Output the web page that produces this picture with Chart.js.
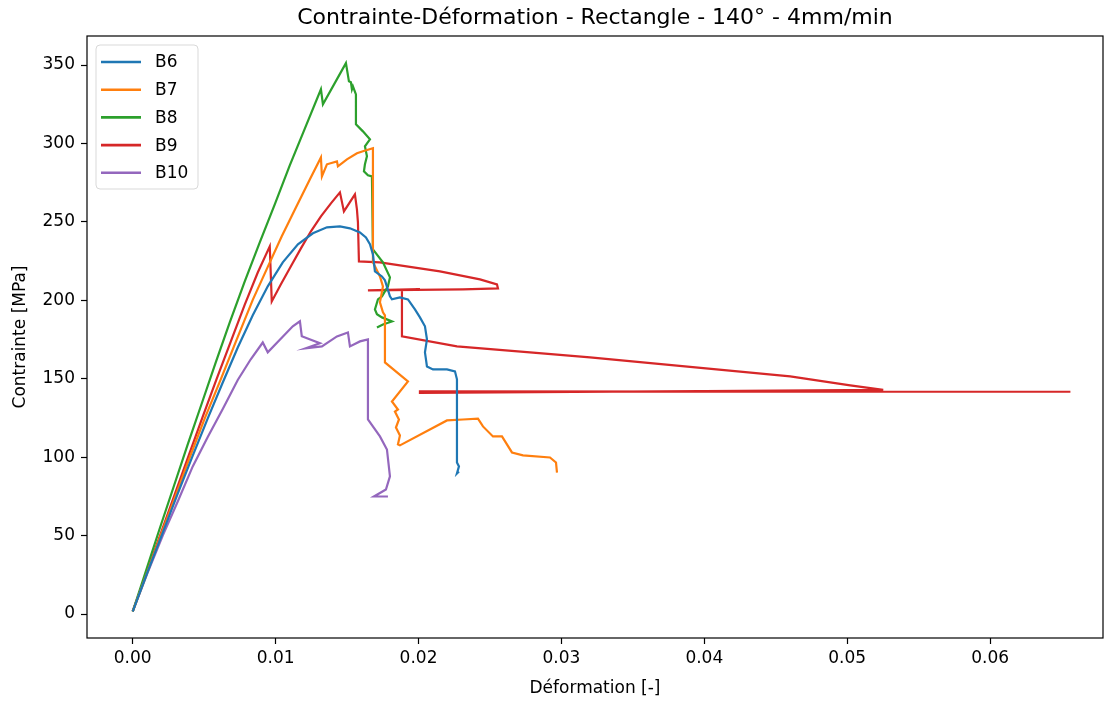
<!DOCTYPE html>
<html>
<head>
<meta charset="utf-8">
<script src="https://cdn.jsdelivr.net/npm/chart.js@4.4.1/dist/chart.umd.min.js"></script>
<style>
  html, body { margin: 0; padding: 0; background: #fff; }
  #wrap { width: 1111px; height: 705px; }
</style>
</head>
<body>
<div id="wrap"><canvas id="c" width="1111" height="705"></canvas></div>
<script>
// Specimens and their colours
const specimens = ['B6', 'B7', 'B8', 'B9', 'B10'];
const colors = ['#1f77b4', '#ff7f0e', '#2ca02c', '#d62728', '#9467bd'];

// Axis ticks
const xTicks = [0.00, 0.01, 0.02, 0.03, 0.04, 0.05, 0.06];
const yTicks = [0, 50, 100, 150, 200, 250, 300, 350];

// B6 : strain [-] / stress [MPa]
const b6Strain = [0, 0.00105, 0.00210, 0.00315, 0.00420, 0.00525, 0.00630, 0.00735, 0.00840, 0.00945, 0.01050, 0.01156, 0.01261, 0.01359, 0.01450, 0.01520, 0.01590, 0.01632, 0.01660, 0.01681, 0.01695, 0.01744, 0.01765, 0.01800, 0.01814, 0.01870, 0.01926, 0.01975, 0.02010, 0.02045, 0.02059, 0.02045, 0.02059, 0.02101, 0.02199, 0.02255, 0.02269, 0.02269, 0.02283, 0.02269, 0.02283];
const b6Stress = [1.6, 27.1, 51.9, 76.8, 101.0, 124.7, 147.6, 169.9, 190.4, 208.9, 224.2, 235.7, 242.7, 246.5, 247.1, 245.9, 243.3, 240.1, 235.7, 229.3, 218.4, 215.2, 212.7, 202.5, 200.6, 201.9, 200.6, 194.2, 189.1, 183.4, 175.1, 166.8, 157.8, 155.9, 155.9, 154.7, 149.6, 96.6, 94.1, 89.6, 90.9];

// B7
const b7Strain = [0, 0.00098, 0.00196, 0.00301, 0.00399, 0.00504, 0.00616, 0.00728, 0.00840, 0.00945, 0.01043, 0.01142, 0.01240, 0.01317, 0.01324, 0.01359, 0.01429, 0.01436, 0.01499, 0.01569, 0.01611, 0.01681, 0.01681, 0.01730, 0.01751, 0.01730, 0.01751, 0.01765, 0.01765, 0.01926, 0.01814, 0.01856, 0.01835, 0.01863, 0.01842, 0.01870, 0.01856, 0.01870, 0.02199, 0.02311, 0.02416, 0.02451, 0.02521, 0.02584, 0.02654, 0.02731, 0.02920, 0.02962, 0.02969];
const b7Stress = [1.6, 25.8, 50.1, 75.6, 99.8, 124.7, 149.6, 175.1, 200.3, 221.3, 240.8, 259.2, 277.1, 291.1, 279.0, 286.7, 288.6, 285.4, 289.9, 293.7, 295.0, 296.9, 224.2, 215.2, 208.9, 198.7, 192.3, 190.4, 160.4, 148.3, 135.5, 130.4, 129.1, 124.0, 118.9, 113.8, 108.1, 107.5, 123.4, 124.0, 124.6, 119.6, 113.2, 113.2, 103.0, 101.1, 99.8, 96.6, 90.2];

// B8
const b8Strain = [0, 0.00091, 0.00189, 0.00287, 0.00385, 0.00483, 0.00581, 0.00679, 0.00784, 0.00889, 0.00994, 0.01099, 0.01205, 0.01317, 0.01331, 0.01492, 0.01513, 0.01527, 0.01534, 0.01541, 0.01562, 0.01562, 0.01611, 0.01660, 0.01625, 0.01639, 0.01625, 0.01618, 0.01646, 0.01674, 0.01681, 0.01751, 0.01800, 0.01786, 0.01744, 0.01716, 0.01695, 0.01709, 0.01744, 0.01814, 0.01751, 0.01709];
const b8Stress = [1.6, 27.1, 54.5, 81.3, 108.1, 134.2, 160.4, 185.9, 212.1, 236.9, 261.2, 286.0, 309.6, 334.5, 325.0, 351.2, 339.6, 339.0, 334.5, 336.4, 331.3, 312.2, 307.7, 302.6, 298.2, 291.8, 286.7, 282.2, 279.7, 279.0, 232.5, 224.2, 214.6, 208.9, 202.5, 200.6, 194.2, 191.1, 189.1, 186.5, 184.6, 182.7];

// B9
const b9Strain = [0, 0.00098, 0.00196, 0.00294, 0.00392, 0.00490, 0.00588, 0.00686, 0.00784, 0.00875, 0.00959, 0.00973, 0.01036, 0.01106, 0.01177, 0.01247, 0.01317, 0.01387, 0.01450, 0.01478, 0.01555, 0.01569, 0.01576, 0.01583, 0.01730, 0.02150, 0.02430, 0.02549, 0.02556, 0.02311, 0.01646, 0.02010, 0.01884, 0.01884, 0.02269, 0.02780, 0.03200, 0.04601, 0.05021, 0.05252, 0.02010, 0.02010, 0.06562];
const b9Stress = [1.6, 26.5, 51.3, 76.2, 101.1, 125.8, 150.1, 173.7, 197.3, 217.7, 234.4, 199.3, 210.1, 221.6, 233.1, 244.0, 253.5, 261.8, 268.8, 256.7, 267.5, 258.0, 249.7, 224.8, 224.2, 218.4, 213.3, 210.1, 207.6, 206.9, 206.3, 207.1, 206.6, 177.0, 170.6, 166.8, 163.6, 151.5, 145.8, 142.9, 140.9, 141.9, 141.7];

// B10
const b10Strain = [0, 0.00105, 0.00210, 0.00315, 0.00420, 0.00525, 0.00630, 0.00735, 0.00826, 0.00910, 0.00945, 0.01120, 0.01170, 0.01183, 0.01310, 0.01211, 0.01324, 0.01429, 0.01506, 0.01520, 0.01590, 0.01646, 0.01646, 0.01730, 0.01779, 0.01800, 0.01772, 0.01688, 0.01786];
const b10Stress = [1.8, 26.5, 50.0, 71.7, 94.1, 112.9, 130.7, 149.2, 162.4, 173.1, 166.8, 183.4, 186.6, 177.1, 172.6, 169.4, 170.6, 177.0, 179.5, 170.6, 173.8, 175.1, 124.0, 113.2, 104.9, 87.7, 79.4, 74.9, 74.9];

const strainSeries = [b6Strain, b7Strain, b8Strain, b9Strain, b10Strain];
const stressSeries = [b6Stress, b7Stress, b8Stress, b9Stress, b10Stress];

const FONT = 'DejaVu Sans';

const datasets = specimens.map((name, i) => ({
  label: name,
  data: strainSeries[i].map((x, k) => ({ x: x, y: stressSeries[i][k] })),
  borderColor: colors[i],
  backgroundColor: colors[i],
  borderWidth: 2.2,
  pointRadius: 0,
  showLine: true,
  tension: 0,
  fill: false
}));

// white page background
const bgPlugin = {
  id: 'bg',
  beforeDraw(chart) {
    const ctx = chart.ctx;
    ctx.save();
    ctx.fillStyle = '#fff';
    ctx.fillRect(0, 0, chart.width, chart.height);
    ctx.restore();
  }
};

// frame around the plot area
const framePlugin = {
  id: 'frame',
  afterDatasetsDraw(chart) {
    const a = chart.chartArea;
    const ctx = chart.ctx;
    ctx.save();
    ctx.strokeStyle = '#000';
    ctx.lineWidth = 1.2;
    ctx.strokeRect(a.left, a.top, a.right - a.left, a.bottom - a.top);
    ctx.restore();
  }
};

// boxed legend in the upper-left corner
const legendBoxPlugin = {
  id: 'legendBox',
  afterDraw(chart) {
    const ctx = chart.ctx;
    const a = chart.chartArea;
    const x0 = a.left + 9, y0 = a.top + 9, w = 102, h = 144, r = 4;
    ctx.save();
    ctx.beginPath();
    ctx.moveTo(x0 + r, y0);
    ctx.lineTo(x0 + w - r, y0);
    ctx.quadraticCurveTo(x0 + w, y0, x0 + w, y0 + r);
    ctx.lineTo(x0 + w, y0 + h - r);
    ctx.quadraticCurveTo(x0 + w, y0 + h, x0 + w - r, y0 + h);
    ctx.lineTo(x0 + r, y0 + h);
    ctx.quadraticCurveTo(x0, y0 + h, x0, y0 + h - r);
    ctx.lineTo(x0, y0 + r);
    ctx.quadraticCurveTo(x0, y0, x0 + r, y0);
    ctx.closePath();
    ctx.fillStyle = 'rgba(255,255,255,0.8)';
    ctx.fill();
    ctx.strokeStyle = '#d9d9d9';
    ctx.lineWidth = 1;
    ctx.stroke();
    ctx.font = '17px "' + FONT + '"';
    ctx.textBaseline = 'middle';
    ctx.textAlign = 'left';
    chart.data.datasets.forEach((ds, i) => {
      const y = y0 + 17 + i * 27.7;
      ctx.strokeStyle = ds.borderColor;
      ctx.lineWidth = 2.6;
      ctx.beginPath();
      ctx.moveTo(x0 + 5, y);
      ctx.lineTo(x0 + 45, y);
      ctx.stroke();
      ctx.fillStyle = '#000';
      ctx.fillText(ds.label, x0 + 59, y + 1);
    });
    ctx.restore();
  }
};

new Chart(document.getElementById('c'), {
  type: 'scatter',
  data: { datasets: datasets },
  plugins: [bgPlugin, framePlugin, legendBoxPlugin],
  options: {
    responsive: false,
    animation: false,
    devicePixelRatio: 1,
    layout: { padding: { left: 0, right: 8, top: 0, bottom: 0 } },
    plugins: {
      legend: { display: false },
      tooltip: { enabled: false },
      title: {
        display: true,
        text: 'Contrainte-Déformation - Rectangle - 140° - 4mm/min',
        fullSize: false,
        color: '#000',
        font: { family: FONT, size: 22, weight: 'normal', lineHeight: 1.2 },
        padding: { top: 5, bottom: 4.6 }
      }
    },
    scales: {
      x: {
        type: 'linear',
        min: -0.0032,
        max: 0.0679,
        afterBuildTicks(scale) { scale.ticks = xTicks.map(v => ({ value: v })); },
        afterFit(scale) { scale.height = 67; },
        border: { display: false },
        grid: { display: true, drawOnChartArea: false, drawTicks: true, tickLength: 6, tickColor: '#000', tickWidth: 1.2 },
        ticks: {
          color: '#000',
          padding: 4,
          maxRotation: 0,
          font: { family: FONT, size: 17 },
          callback: v => Number(v).toFixed(2)
        },
        title: {
          display: true,
          text: 'Déformation [-]',
          color: '#000',
          font: { family: FONT, size: 17, lineHeight: 1.2 },
          padding: { top: 0, bottom: 6 }
        }
      },
      y: {
        type: 'linear',
        min: -15.3,
        max: 368.5,
        afterBuildTicks(scale) { scale.ticks = yTicks.map(v => ({ value: v })); },
        afterFit(scale) { scale.width = 87; },
        border: { display: false },
        grid: { display: true, drawOnChartArea: false, drawTicks: true, tickLength: 6, tickColor: '#000', tickWidth: 1.2 },
        ticks: {
          color: '#000',
          padding: 6,
          font: { family: FONT, size: 17 },
          callback: v => String(v)
        },
        title: {
          display: true,
          text: 'Contrainte [MPa]',
          color: '#000',
          font: { family: FONT, size: 17, lineHeight: 1.2 },
          padding: { top: 10, bottom: 0 }
        }
      }
    }
  }
});
</script>
</body>
</html>
